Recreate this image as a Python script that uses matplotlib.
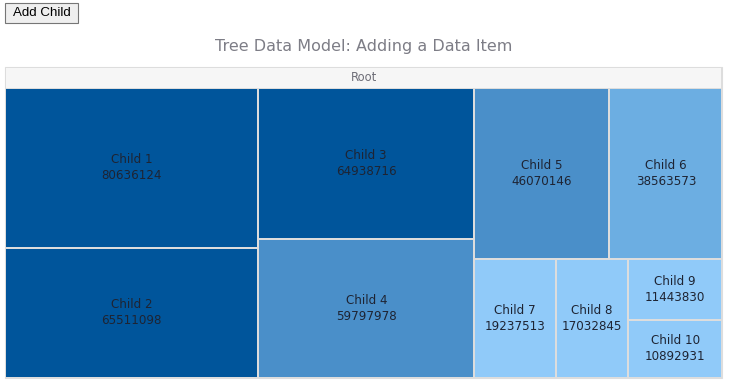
import matplotlib
matplotlib.use("Agg")
import matplotlib.pyplot as plt
from matplotlib.patches import Rectangle

# ---- data ----
names = ["Child 1", "Child 2", "Child 3", "Child 4", "Child 5",
         "Child 6", "Child 7", "Child 8", "Child 9", "Child 10"]
values = [80636124, 65511098, 64938716, 59797978, 46070146,
          38563573, 19237513, 17032845, 11443830, 10892931]
colors = ["#00559B", "#00559B", "#00559B", "#4A8FC9", "#4A8FC9",
          "#6CAEE2", "#90CAF9", "#90CAF9", "#90CAF9", "#90CAF9"]
title = "Tree Data Model: Adding a Data Item"
root_label = "Root"
button_label = "Add Child"

# ---- squarified layout ----
def worst(row, w):
    s = sum(row)
    return max(max(w * w * r / (s * s), (s * s) / (w * w * r)) for r in row)

def layout_row(row, x, y, dx, dy):
    s = sum(row)
    rects = []
    if dx >= dy:
        width = s / dy
        yy = y
        for r in row:
            h = r / width
            rects.append((x, yy, width, h))
            yy += h
        return rects, (x + width, y, dx - width, dy)
    else:
        height = s / dx
        xx = x
        for r in row:
            w = r / height
            rects.append((xx, y, w, height))
            xx += w
        return rects, (x, y + height, dx, dy - height)

def squarify(vals, x, y, dx, dy):
    total = sum(vals)
    areas = [v * dx * dy / total for v in vals]
    rects = []
    i = 0
    while i < len(areas):
        side = min(dx, dy)
        row = [areas[i]]
        i += 1
        while i < len(areas):
            if worst(row + [areas[i]], side) <= worst(row, side):
                row.append(areas[i])
                i += 1
            else:
                break
        r, (x, y, dx, dy) = layout_row(row, x, y, dx, dy)
        rects.extend(r)
    return rects

W, H = 729, 382
fig = plt.figure(figsize=(W / 100, H / 100), dpi=100)
ax = fig.add_axes([0, 0, 1, 1])
ax.set_xlim(0, W)
ax.set_ylim(H, 0)
ax.axis("off")

# button
ax.add_patch(Rectangle((5, 2.5), 73, 20.5, facecolor="#EFEFEF",
                       edgecolor="#767676", linewidth=0.8))
ax.text(41.5, 13, button_label, ha="center", va="center", fontsize=9.6,
        family="Liberation Sans", color="#000000")

# title
ax.text(364, 47, title, ha="center", va="center", fontsize=11.5,
        color="#7D7D86")

# frame / header
left, top, right, bottom = 5, 66.5, 722.5, 377.5
header_h = 22
ax.add_patch(Rectangle((left, top), right - left, bottom - top,
                       facecolor="#DDDDDD", edgecolor="#DDDDDD", linewidth=0.8))
ax.add_patch(Rectangle((left + 1, top + 1), right - left - 2, header_h - 2,
                       facecolor="#F6F6F6", edgecolor="none"))
ax.text((left + right) / 2, top + header_h / 2, root_label, ha="center",
        va="center", fontsize=8.3, color="#6E6E78")

# treemap cells
ax0, ay0 = left + 1, top + header_h + 0.5
aw, ah = right - left, bottom - ay0 + 1
rects = squarify(values, ax0, ay0, aw, ah)
gap = 2.0
for (x, y, w, h), n, v, c in zip(rects, names, values, colors):
    ax.add_patch(Rectangle((x, y), w - gap, h - gap, facecolor=c,
                           edgecolor="none"))
    cx, cy = x + (w - gap) / 2, y + (h - gap) / 2
    ax.text(cx, cy - 8, n, ha="center", va="center", fontsize=8.6,
            color="#1E2433")
    ax.text(cx, cy + 8, str(v), ha="center", va="center", fontsize=8.6,
            color="#1E2433")

fig.savefig("out.png", dpi=100, facecolor="white")
